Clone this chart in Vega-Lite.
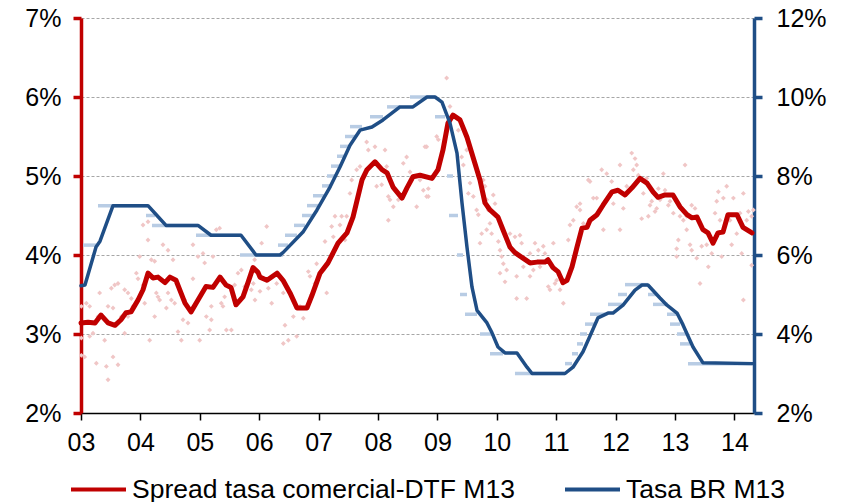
{
  "$schema": "https://vega.github.io/schema/vega-lite/v6.json",
  "width": 673,
  "height": 395,
  "autosize": {"type": "none"},
  "padding": {"left": 81, "top": 18, "right": 90, "bottom": 89},
  "config": {
    "view": {"stroke": null},
    "font": "Liberation Sans",
    "axis": {"labelFont": "Liberation Sans", "labelFontSize": 25, "labelColor": "#000000"},
    "legend": {"labelFont": "Liberation Sans"}
  },
  "datasets": {
    "puntos": [
      {"year": 2003.006, "value": 3.35}, {"year": 2003.146, "value": 3.35}, {"year": 2003.006, "value": 2.95}, {"year": 2003.006, "value": 2.73},
      {"year": 2003.062, "value": 2.71}, {"year": 2003.146, "value": 2.97}, {"year": 2003.202, "value": 3.01}, {"year": 2003.258, "value": 2.63},
      {"year": 2003.398, "value": 2.92}, {"year": 2003.427, "value": 2.59}, {"year": 2003.455, "value": 2.42}, {"year": 2003.455, "value": 3.35},
      {"year": 2003.539, "value": 3.33}, {"year": 2003.511, "value": 3.58}, {"year": 2003.567, "value": 3.62}, {"year": 2003.623, "value": 3.64},
      {"year": 2003.539, "value": 2.71}, {"year": 2003.623, "value": 2.61}, {"year": 2003.735, "value": 3.01}, {"year": 2003.735, "value": 3.56},
      {"year": 2003.791, "value": 3.52}, {"year": 2003.847, "value": 3.45}, {"year": 2003.875, "value": 3.35}, {"year": 2003.932, "value": 3.77},
      {"year": 2003.988, "value": 3.98}, {"year": 2004.044, "value": 4.38}, {"year": 2004.128, "value": 4.42}, {"year": 2004.128, "value": 4.19},
      {"year": 2004.184, "value": 3.94}, {"year": 2004.24, "value": 3.92}, {"year": 2004.268, "value": 3.52}, {"year": 2004.296, "value": 3.47},
      {"year": 2004.324, "value": 3.43}, {"year": 2004.156, "value": 2.92}, {"year": 2004.24, "value": 3.22}, {"year": 2004.437, "value": 3.33},
      {"year": 2004.38, "value": 4.13}, {"year": 2004.465, "value": 4.06}, {"year": 2004.549, "value": 3.94}, {"year": 2004.633, "value": 3.03},
      {"year": 2004.689, "value": 2.92}, {"year": 2004.717, "value": 3.18}, {"year": 2004.801, "value": 3.14}, {"year": 2004.885, "value": 3.7},
      {"year": 2004.885, "value": 4.13}, {"year": 2004.97, "value": 3.98}, {"year": 2004.998, "value": 2.92}, {"year": 2005.054, "value": 4.02},
      {"year": 2005.082, "value": 3.9}, {"year": 2005.166, "value": 3.05}, {"year": 2005.194, "value": 3.18}, {"year": 2005.222, "value": 3.98},
      {"year": 2005.278, "value": 4.32}, {"year": 2005.334, "value": 4.34}, {"year": 2005.39, "value": 3.35}, {"year": 2005.447, "value": 3.05},
      {"year": 2005.531, "value": 3.05}, {"year": 2005.587, "value": 3.62}, {"year": 2005.643, "value": 3.77}, {"year": 2005.699, "value": 3.81},
      {"year": 2005.755, "value": 3.6}, {"year": 2005.867, "value": 3.56}, {"year": 2005.923, "value": 3.94}, {"year": 2004.072, "value": 3.39},
      {"year": 2003.96, "value": 3.7}, {"year": 2004.044, "value": 3.62}, {"year": 2003.314, "value": 3.52}, {"year": 2003.286, "value": 3.22},
      {"year": 2003.679, "value": 3.22}, {"year": 2003.791, "value": 3.22}, {"year": 2003.09, "value": 3.39}, {"year": 2004.465, "value": 3.52},
      {"year": 2004.521, "value": 3.43}, {"year": 2004.577, "value": 3.39}, {"year": 2004.745, "value": 3.43}, {"year": 2005.11, "value": 3.22},
      {"year": 2005.194, "value": 3.35}, {"year": 2005.362, "value": 3.39}, {"year": 2005.418, "value": 3.47},
      {"year": 2006.126, "value": 4.36}, {"year": 2006.041, "value": 4.15}, {"year": 2005.901, "value": 3.64}, {"year": 2005.929, "value": 3.43},
      {"year": 2006.013, "value": 3.54}, {"year": 2006.154, "value": 3.58}, {"year": 2006.21, "value": 3.39}, {"year": 2006.434, "value": 3.11},
      {"year": 2006.406, "value": 2.88}, {"year": 2006.49, "value": 2.92}, {"year": 2006.631, "value": 2.97}, {"year": 2006.575, "value": 3.22},
      {"year": 2006.743, "value": 3.2}, {"year": 2006.687, "value": 3.35}, {"year": 2006.827, "value": 3.79}, {"year": 2006.855, "value": 3.73},
      {"year": 2006.967, "value": 3.89}, {"year": 2007.08, "value": 3.81}, {"year": 2007.136, "value": 3.52}, {"year": 2007.108, "value": 4.17},
      {"year": 2007.22, "value": 4.36}, {"year": 2007.276, "value": 4.49}, {"year": 2007.36, "value": 4.38}, {"year": 2007.388, "value": 4.49},
      {"year": 2007.472, "value": 4.49}, {"year": 2007.528, "value": 4.78}, {"year": 2007.557, "value": 4.95}, {"year": 2007.641, "value": 5.08},
      {"year": 2007.697, "value": 5.12}, {"year": 2007.809, "value": 5.43}, {"year": 2007.837, "value": 5.33}, {"year": 2007.949, "value": 5.37},
      {"year": 2007.977, "value": 4.87}, {"year": 2008.062, "value": 4.89}, {"year": 2008.118, "value": 5.33}, {"year": 2008.146, "value": 5.12},
      {"year": 2008.174, "value": 4.74}, {"year": 2008.202, "value": 4.7}, {"year": 2008.174, "value": 4.44}, {"year": 2008.258, "value": 4.61},
      {"year": 2008.342, "value": 4.7}, {"year": 2008.426, "value": 5.16}, {"year": 2008.482, "value": 5.24}, {"year": 2008.539, "value": 5.05},
      {"year": 2008.651, "value": 4.61}, {"year": 2008.707, "value": 4.95}, {"year": 2008.791, "value": 5.37}, {"year": 2008.847, "value": 4.74},
      {"year": 2005.957, "value": 3.81}, {"year": 2006.294, "value": 3.64}, {"year": 2006.406, "value": 3.52}, {"year": 2006.939, "value": 3.64},
      {"year": 2007.248, "value": 4.23}, {"year": 2007.444, "value": 4.19}, {"year": 2007.528, "value": 4.4},
      {"year": 2009.156, "value": 6.24}, {"year": 2009.212, "value": 5.88}, {"year": 2008.819, "value": 5.37}, {"year": 2008.988, "value": 5.5},
      {"year": 2008.763, "value": 4.82}, {"year": 2008.847, "value": 4.84}, {"year": 2008.819, "value": 4.74}, {"year": 2009.016, "value": 5.46},
      {"year": 2009.352, "value": 5.58}, {"year": 2009.408, "value": 5.24}, {"year": 2009.437, "value": 5.14}, {"year": 2009.493, "value": 5.33},
      {"year": 2009.549, "value": 4.91}, {"year": 2009.521, "value": 4.78}, {"year": 2009.605, "value": 4.74}, {"year": 2009.661, "value": 4.57},
      {"year": 2009.689, "value": 4.51}, {"year": 2009.773, "value": 4.95}, {"year": 2009.801, "value": 4.87}, {"year": 2009.829, "value": 4.7},
      {"year": 2009.857, "value": 4.57}, {"year": 2009.885, "value": 4.4}, {"year": 2009.913, "value": 4.27}, {"year": 2009.941, "value": 4.76},
      {"year": 2009.97, "value": 4.65}, {"year": 2009.717, "value": 4.15}, {"year": 2009.745, "value": 4.27}, {"year": 2009.829, "value": 4.32},
      {"year": 2010.026, "value": 4.17}, {"year": 2010.054, "value": 4.06}, {"year": 2010.082, "value": 3.98}, {"year": 2010.11, "value": 3.89},
      {"year": 2010.138, "value": 3.66}, {"year": 2010.054, "value": 3.77}, {"year": 2010.222, "value": 4.27}, {"year": 2010.306, "value": 4.23},
      {"year": 2010.39, "value": 4.25}, {"year": 2010.418, "value": 4.15}, {"year": 2010.447, "value": 3.85}, {"year": 2010.334, "value": 3.73},
      {"year": 2010.334, "value": 3.45}, {"year": 2010.503, "value": 3.45}, {"year": 2010.559, "value": 3.73}, {"year": 2010.559, "value": 4.02},
      {"year": 2010.643, "value": 4.15}, {"year": 2010.699, "value": 4.06}, {"year": 2010.727, "value": 3.85}, {"year": 2010.783, "value": 4.11},
      {"year": 2010.811, "value": 4.02}, {"year": 2010.867, "value": 3.6}, {"year": 2010.895, "value": 3.56}, {"year": 2010.952, "value": 4.15},
      {"year": 2010.98, "value": 3.64}, {"year": 2011.008, "value": 3.68}, {"year": 2011.064, "value": 3.56}, {"year": 2011.12, "value": 3.39},
      {"year": 2011.204, "value": 4.19}, {"year": 2011.232, "value": 4.38}, {"year": 2011.288, "value": 4.44}, {"year": 2011.345, "value": 4.61},
      {"year": 2011.401, "value": 4.65}, {"year": 2011.541, "value": 4.95}, {"year": 2010.222, "value": 4.11}, {"year": 2010.166, "value": 3.81},
      {"year": 2010.615, "value": 3.81},
      {"year": 2011.401, "value": 4.57}, {"year": 2011.569, "value": 4.93}, {"year": 2011.625, "value": 4.72}, {"year": 2011.682, "value": 4.72},
      {"year": 2011.766, "value": 5.08}, {"year": 2011.794, "value": 4.32}, {"year": 2011.85, "value": 5.03}, {"year": 2011.934, "value": 4.93},
      {"year": 2012.074, "value": 5.14}, {"year": 2012.074, "value": 4.32}, {"year": 2012.13, "value": 4.59}, {"year": 2012.271, "value": 5.29},
      {"year": 2012.327, "value": 5.22}, {"year": 2012.299, "value": 5.08}, {"year": 2012.355, "value": 5.14}, {"year": 2012.383, "value": 5.01},
      {"year": 2012.439, "value": 4.46}, {"year": 2012.467, "value": 4.78}, {"year": 2012.523, "value": 4.97}, {"year": 2012.579, "value": 4.63},
      {"year": 2012.608, "value": 4.68}, {"year": 2012.664, "value": 4.55}, {"year": 2012.692, "value": 4.59}, {"year": 2012.72, "value": 4.84},
      {"year": 2012.804, "value": 5.03}, {"year": 2012.832, "value": 4.82}, {"year": 2012.888, "value": 4.63}, {"year": 2012.916, "value": 4.68},
      {"year": 2013.028, "value": 4.08}, {"year": 2013.056, "value": 4.19}, {"year": 2013.028, "value": 3.98}, {"year": 2013.084, "value": 4.49},
      {"year": 2013.169, "value": 5.14}, {"year": 2013.197, "value": 4.49}, {"year": 2013.197, "value": 4.32}, {"year": 2013.281, "value": 4.63},
      {"year": 2013.337, "value": 4.59}, {"year": 2013.253, "value": 4.13}, {"year": 2013.281, "value": 4.06}, {"year": 2013.365, "value": 3.96},
      {"year": 2013.421, "value": 3.64}, {"year": 2013.449, "value": 4.11}, {"year": 2013.533, "value": 4.13}, {"year": 2013.561, "value": 3.85},
      {"year": 2013.618, "value": 4.02}, {"year": 2013.674, "value": 4.53}, {"year": 2013.702, "value": 4.68}, {"year": 2013.73, "value": 4.8},
      {"year": 2013.786, "value": 3.98}, {"year": 2013.814, "value": 4.72}, {"year": 2013.87, "value": 4.87}, {"year": 2013.954, "value": 4.13},
      {"year": 2013.983, "value": 4.72}, {"year": 2014.039, "value": 4.27}, {"year": 2014.123, "value": 4.02}, {"year": 2014.151, "value": 4.78},
      {"year": 2014.151, "value": 3.43}, {"year": 2014.207, "value": 4.44}, {"year": 2014.235, "value": 4.55}, {"year": 2014.291, "value": 3.87},
      {"year": 2014.291, "value": 4.49}, {"year": 2014.319, "value": 4.57}, {"year": 2011.457, "value": 4.4}, {"year": 2011.962, "value": 4.65},
      {"year": 2012.187, "value": 4.87}, {"year": 2012.551, "value": 4.49}, {"year": 2012.748, "value": 4.7}, {"year": 2012.972, "value": 4.53},
      {"year": 2013.141, "value": 4.44}, {"year": 2013.477, "value": 4.32}, {"year": 2013.758, "value": 4.44}, {"year": 2013.926, "value": 4.44},
      {"year": 2014.095, "value": 4.53}
    ],
    "spread": [
      {"year": 2003.0, "value": 3.14}, {"year": 2003.118, "value": 3.15}, {"year": 2003.236, "value": 3.14}, {"year": 2003.337, "value": 3.24},
      {"year": 2003.455, "value": 3.14}, {"year": 2003.572, "value": 3.11}, {"year": 2003.673, "value": 3.18}, {"year": 2003.758, "value": 3.27},
      {"year": 2003.842, "value": 3.28}, {"year": 2003.96, "value": 3.43}, {"year": 2004.044, "value": 3.56}, {"year": 2004.128, "value": 3.77},
      {"year": 2004.212, "value": 3.71}, {"year": 2004.296, "value": 3.72}, {"year": 2004.414, "value": 3.65}, {"year": 2004.498, "value": 3.72},
      {"year": 2004.599, "value": 3.68}, {"year": 2004.751, "value": 3.39}, {"year": 2004.852, "value": 3.28}, {"year": 2004.97, "value": 3.43},
      {"year": 2005.104, "value": 3.6}, {"year": 2005.222, "value": 3.59}, {"year": 2005.34, "value": 3.72}, {"year": 2005.441, "value": 3.62},
      {"year": 2005.525, "value": 3.59}, {"year": 2005.609, "value": 3.37}, {"year": 2005.727, "value": 3.47}, {"year": 2005.811, "value": 3.65},
      {"year": 2005.896, "value": 3.84}, {"year": 2005.98, "value": 3.78}, {"year": 2006.013, "value": 3.72}, {"year": 2006.131, "value": 3.68},
      {"year": 2006.3, "value": 3.77}, {"year": 2006.401, "value": 3.68}, {"year": 2006.519, "value": 3.52}, {"year": 2006.636, "value": 3.33},
      {"year": 2006.805, "value": 3.33}, {"year": 2006.889, "value": 3.49}, {"year": 2007.024, "value": 3.77}, {"year": 2007.158, "value": 3.9},
      {"year": 2007.327, "value": 4.15}, {"year": 2007.478, "value": 4.28}, {"year": 2007.579, "value": 4.48}, {"year": 2007.731, "value": 4.95},
      {"year": 2007.815, "value": 5.08}, {"year": 2007.949, "value": 5.18}, {"year": 2008.067, "value": 5.08}, {"year": 2008.152, "value": 5.04},
      {"year": 2008.253, "value": 4.86}, {"year": 2008.404, "value": 4.72}, {"year": 2008.488, "value": 4.85}, {"year": 2008.589, "value": 4.99},
      {"year": 2008.707, "value": 5.01}, {"year": 2008.909, "value": 4.97}, {"year": 2009.01, "value": 5.08}, {"year": 2009.094, "value": 5.33},
      {"year": 2009.178, "value": 5.67}, {"year": 2009.263, "value": 5.77}, {"year": 2009.38, "value": 5.71}, {"year": 2009.498, "value": 5.49},
      {"year": 2009.599, "value": 5.24}, {"year": 2009.717, "value": 4.95}, {"year": 2009.801, "value": 4.66}, {"year": 2009.886, "value": 4.57},
      {"year": 2010.02, "value": 4.48}, {"year": 2010.104, "value": 4.32}, {"year": 2010.222, "value": 4.1}, {"year": 2010.306, "value": 4.03},
      {"year": 2010.441, "value": 3.96}, {"year": 2010.559, "value": 3.9}, {"year": 2010.677, "value": 3.91}, {"year": 2010.811, "value": 3.91},
      {"year": 2010.862, "value": 3.94}, {"year": 2010.946, "value": 3.84}, {"year": 2011.03, "value": 3.79}, {"year": 2011.114, "value": 3.65},
      {"year": 2011.182, "value": 3.68}, {"year": 2011.266, "value": 3.85}, {"year": 2011.35, "value": 4.1}, {"year": 2011.434, "value": 4.34},
      {"year": 2011.519, "value": 4.35}, {"year": 2011.569, "value": 4.44}, {"year": 2011.687, "value": 4.51}, {"year": 2011.788, "value": 4.63},
      {"year": 2011.939, "value": 4.8}, {"year": 2012.04, "value": 4.82}, {"year": 2012.158, "value": 4.76}, {"year": 2012.276, "value": 4.85},
      {"year": 2012.41, "value": 4.97}, {"year": 2012.529, "value": 4.91}, {"year": 2012.63, "value": 4.8}, {"year": 2012.714, "value": 4.73},
      {"year": 2012.832, "value": 4.76}, {"year": 2012.966, "value": 4.76}, {"year": 2013.084, "value": 4.61}, {"year": 2013.202, "value": 4.51},
      {"year": 2013.286, "value": 4.47}, {"year": 2013.37, "value": 4.48}, {"year": 2013.471, "value": 4.32}, {"year": 2013.556, "value": 4.28},
      {"year": 2013.64, "value": 4.15}, {"year": 2013.724, "value": 4.28}, {"year": 2013.808, "value": 4.29}, {"year": 2013.892, "value": 4.51},
      {"year": 2014.044, "value": 4.51}, {"year": 2014.145, "value": 4.35}, {"year": 2014.296, "value": 4.28}
    ],
    "tasa": [
      {"year": 2003.0, "value": 5.22}, {"year": 2003.067, "value": 5.24}, {"year": 2003.253, "value": 6.2}, {"year": 2003.32, "value": 6.35},
      {"year": 2003.539, "value": 7.25}, {"year": 2004.128, "value": 7.25}, {"year": 2004.279, "value": 7.0}, {"year": 2004.431, "value": 6.75},
      {"year": 2004.97, "value": 6.75}, {"year": 2005.189, "value": 6.5}, {"year": 2005.694, "value": 6.5}, {"year": 2005.946, "value": 6.0},
      {"year": 2006.35, "value": 6.0}, {"year": 2006.401, "value": 6.06}, {"year": 2006.737, "value": 6.58}, {"year": 2006.973, "value": 7.14},
      {"year": 2007.192, "value": 7.72}, {"year": 2007.36, "value": 8.23}, {"year": 2007.529, "value": 8.78}, {"year": 2007.697, "value": 9.16},
      {"year": 2007.899, "value": 9.24}, {"year": 2008.084, "value": 9.42}, {"year": 2008.37, "value": 9.75}, {"year": 2008.589, "value": 9.75},
      {"year": 2008.825, "value": 10.0}, {"year": 2008.96, "value": 10.0}, {"year": 2009.077, "value": 9.87}, {"year": 2009.212, "value": 9.34},
      {"year": 2009.33, "value": 8.58}, {"year": 2009.414, "value": 7.32}, {"year": 2009.498, "value": 6.2}, {"year": 2009.582, "value": 5.19},
      {"year": 2009.667, "value": 4.6}, {"year": 2009.835, "value": 4.28}, {"year": 2009.919, "value": 4.03}, {"year": 2010.02, "value": 3.67},
      {"year": 2010.138, "value": 3.52}, {"year": 2010.34, "value": 3.52}, {"year": 2010.508, "value": 3.16}, {"year": 2010.593, "value": 3.0},
      {"year": 2011.148, "value": 3.0}, {"year": 2011.283, "value": 3.16}, {"year": 2011.451, "value": 3.55}, {"year": 2011.569, "value": 3.95},
      {"year": 2011.704, "value": 4.41}, {"year": 2011.872, "value": 4.53}, {"year": 2011.956, "value": 4.53}, {"year": 2012.125, "value": 4.73},
      {"year": 2012.327, "value": 5.11}, {"year": 2012.444, "value": 5.24}, {"year": 2012.545, "value": 5.24}, {"year": 2012.747, "value": 4.91},
      {"year": 2012.865, "value": 4.73}, {"year": 2013.034, "value": 4.53}, {"year": 2013.135, "value": 4.23}, {"year": 2013.303, "value": 3.67},
      {"year": 2013.471, "value": 3.27}, {"year": 2014.313, "value": 3.25}
    ],
    "tasaObservada": [
      {"start": 2003.034, "end": 2003.253, "value": 6.25}, {"start": 2003.286, "end": 2004.128, "value": 7.25},
      {"start": 2004.094, "end": 2004.246, "value": 7.0}, {"start": 2004.195, "end": 2004.97, "value": 6.75},
      {"start": 2004.936, "end": 2005.694, "value": 6.5}, {"start": 2005.677, "end": 2006.401, "value": 6.0},
      {"start": 2006.316, "end": 2006.485, "value": 6.25}, {"start": 2006.434, "end": 2006.636, "value": 6.5},
      {"start": 2006.586, "end": 2006.771, "value": 6.75}, {"start": 2006.721, "end": 2006.906, "value": 7.0},
      {"start": 2006.805, "end": 2006.99, "value": 7.25}, {"start": 2006.906, "end": 2007.108, "value": 7.5},
      {"start": 2007.057, "end": 2007.226, "value": 7.75}, {"start": 2007.141, "end": 2007.293, "value": 8.0},
      {"start": 2007.209, "end": 2007.36, "value": 8.25}, {"start": 2007.31, "end": 2007.444, "value": 8.5},
      {"start": 2007.36, "end": 2007.529, "value": 8.75}, {"start": 2007.444, "end": 2007.613, "value": 9.0},
      {"start": 2007.529, "end": 2007.731, "value": 9.25}, {"start": 2007.865, "end": 2008.084, "value": 9.5},
      {"start": 2008.152, "end": 2008.37, "value": 9.75}, {"start": 2008.539, "end": 2008.96, "value": 10.0},
      {"start": 2008.96, "end": 2009.128, "value": 9.5}, {"start": 2009.162, "end": 2009.263, "value": 8.0},
      {"start": 2009.195, "end": 2009.347, "value": 7.0}, {"start": 2009.33, "end": 2009.431, "value": 6.0},
      {"start": 2009.38, "end": 2009.498, "value": 5.0}, {"start": 2009.465, "end": 2009.667, "value": 4.5},
      {"start": 2009.717, "end": 2009.919, "value": 4.0}, {"start": 2009.886, "end": 2010.104, "value": 3.5},
      {"start": 2010.306, "end": 2011.148, "value": 3.0}, {"start": 2011.148, "end": 2011.266, "value": 3.25},
      {"start": 2011.266, "end": 2011.367, "value": 3.5}, {"start": 2011.35, "end": 2011.451, "value": 3.75},
      {"start": 2011.401, "end": 2011.519, "value": 4.0}, {"start": 2011.485, "end": 2011.653, "value": 4.25},
      {"start": 2011.569, "end": 2011.822, "value": 4.5}, {"start": 2011.872, "end": 2012.108, "value": 4.75},
      {"start": 2012.04, "end": 2012.192, "value": 5.0}, {"start": 2012.158, "end": 2012.545, "value": 5.25},
      {"start": 2012.545, "end": 2012.697, "value": 5.0}, {"start": 2012.63, "end": 2012.882, "value": 4.75},
      {"start": 2012.865, "end": 2013.034, "value": 4.5}, {"start": 2012.916, "end": 2013.084, "value": 4.25},
      {"start": 2013.034, "end": 2013.202, "value": 4.0}, {"start": 2013.084, "end": 2013.253, "value": 3.75},
      {"start": 2013.219, "end": 2014.313, "value": 3.25}
    ]
  },
  "layer": [
    {
      "data": {"name": "puntos"},
      "mark": {"type": "point", "shape": "diamond", "filled": true, "size": 24, "color": "#F0C6C6", "opacity": 1},
      "encoding": {
        "x": {"field": "year", "type": "quantitative", "scale": {"domain": [2003, 2014.33], "nice": false, "zero": false},
              "axis": {"values": [2003, 2004, 2005, 2006, 2007, 2008, 2009, 2010, 2011, 2012, 2013, 2014], "labelExpr": "substring(toString(datum.value), 2)", "title": null, "grid": false, "domainColor": "#000000", "domainWidth": 1.5, "tickColor": "#000000", "tickWidth": 1.5, "tickSize": 7, "labelPadding": 10, "labelFlush": false, "labelOverlap": false}},
        "y": {"field": "value", "type": "quantitative", "scale": {"domain": [2, 7], "nice": false, "zero": false}, "axis": null}
      }
    },
    {
      "data": {"name": "tasaObservada"},
      "mark": {"type": "rule", "color": "#B8CCE4", "strokeWidth": 3.5, "strokeCap": "butt"},
      "encoding": {
        "x": {"field": "start", "type": "quantitative", "scale": {"domain": [2003, 2014.33], "nice": false, "zero": false},
              "axis": {"values": [2003, 2004, 2005, 2006, 2007, 2008, 2009, 2010, 2011, 2012, 2013, 2014], "labelExpr": "substring(toString(datum.value), 2)", "title": null, "grid": false, "domainColor": "#000000", "domainWidth": 1.5, "tickColor": "#000000", "tickWidth": 1.5, "tickSize": 7, "labelPadding": 10, "labelFlush": false, "labelOverlap": false}},
        "x2": {"field": "end"},
        "y": {"field": "value", "type": "quantitative", "scale": {"domain": [2, 12], "nice": false, "zero": false}, "axis": null}
      }
    },
    {
      "data": {"name": "spread"},
      "mark": {"type": "line", "strokeWidth": 5, "strokeJoin": "round", "strokeCap": "round"},
      "encoding": {
        "x": {"field": "year", "type": "quantitative", "scale": {"domain": [2003, 2014.33], "nice": false, "zero": false},
              "axis": {"values": [2003, 2004, 2005, 2006, 2007, 2008, 2009, 2010, 2011, 2012, 2013, 2014], "labelExpr": "substring(toString(datum.value), 2)", "title": null, "grid": false, "domainColor": "#000000", "domainWidth": 1.5, "tickColor": "#000000", "tickWidth": 1.5, "tickSize": 7, "labelPadding": 10, "labelFlush": false, "labelOverlap": false}},
        "y": {"field": "value", "type": "quantitative", "scale": {"domain": [2, 7], "nice": false, "zero": false},
              "axis": {"orient": "left", "values": [2, 3, 4, 5, 6, 7], "labelExpr": "datum.value + '%'", "title": null, "domainColor": "#C00000", "domainWidth": 3.5, "tickColor": "#C00000", "tickWidth": 3.5, "tickSize": 8, "labelPadding": 12, "grid": true, "gridColor": "#A6A6A6", "gridDash": [3, 2], "gridWidth": 1}},
        "color": {"datum": "Spread tasa comercial-DTF M13", "type": "nominal",
                  "scale": {"domain": ["Spread tasa comercial-DTF M13", "Tasa BR M13"], "range": ["#C00000", "#1F4E86"]},
                  "legend": {"orient": "none", "legendX": -12, "legendY": 442, "direction": "horizontal", "title": null, "padding": 0, "symbolType": "stroke", "symbolSize": 3025, "symbolStrokeWidth": 4, "labelFontSize": 26.5, "labelOffset": 4, "columnPadding": 42, "labelColor": "#000000", "labelLimit": 0}}
      }
    },
    {
      "data": {"name": "tasa"},
      "mark": {"type": "line", "strokeWidth": 3.5, "strokeJoin": "round", "strokeCap": "round"},
      "encoding": {
        "x": {"field": "year", "type": "quantitative", "scale": {"domain": [2003, 2014.33], "nice": false, "zero": false},
              "axis": {"values": [2003, 2004, 2005, 2006, 2007, 2008, 2009, 2010, 2011, 2012, 2013, 2014], "labelExpr": "substring(toString(datum.value), 2)", "title": null, "grid": false, "domainColor": "#000000", "domainWidth": 1.5, "tickColor": "#000000", "tickWidth": 1.5, "tickSize": 7, "labelPadding": 10, "labelFlush": false, "labelOverlap": false}},
        "y": {"field": "value", "type": "quantitative", "scale": {"domain": [2, 12], "nice": false, "zero": false},
              "axis": {"orient": "right", "values": [2, 4, 6, 8, 10, 12], "labelExpr": "datum.value + '%'", "title": null, "domainColor": "#1F4E86", "domainWidth": 3.5, "tickColor": "#1F4E86", "tickWidth": 3.5, "tickSize": 8, "labelPadding": 14, "grid": false}},
        "color": {"datum": "Tasa BR M13", "type": "nominal"}
      }
    }
  ],
  "resolve": {"scale": {"y": "independent"}}
}
